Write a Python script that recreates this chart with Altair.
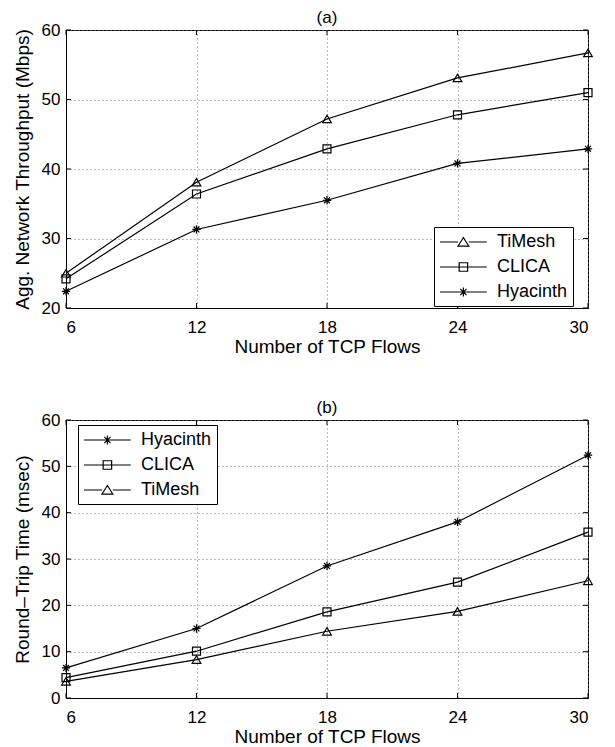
import altair as alt
import pandas as pd

flows = [6, 12, 18, 24, 30]

# Panel (a): aggregate network throughput (Mbps)
thr_timesh = [25.0, 38.1, 47.2, 53.1, 56.7]
thr_clica = [24.2, 36.4, 42.9, 47.8, 51.0]
thr_hyacinth = [22.4, 31.3, 35.5, 40.8, 42.9]

# Panel (b): round-trip time (msec)
rtt_hyacinth = [6.5, 15.0, 28.5, 38.0, 52.4]
rtt_clica = [4.4, 10.1, 18.6, 25.0, 35.8]
rtt_timesh = [3.6, 8.3, 14.4, 18.7, 25.3]

FONT = "Liberation Sans"
W, H = 522, 278
TICK = 5

SHAPES = {
    "TiMesh": "triangle-up",
    "CLICA": "square",
    "Hyacinth": "M0,-1L0,1M-1,0L1,0M-0.7,-0.7L0.7,0.7M-0.7,0.7L0.7,-0.7",
}
SIZES = {"TiMesh": 75, "CLICA": 64, "Hyacinth": 70}
# legend glyphs: a line with the marker in its middle (unit box scaled by symbol size)
LEG_PATHS = {
    "TiMesh": "M-1,0L1.0,0M2.2,0L4.2,0M1.6,-0.5L2.2,0.45L1.0,0.45Z",
    "CLICA": "M-1,0L4.2,0M1.13,-0.47L2.07,-0.47L2.07,0.47L1.13,0.47Z",
    "Hyacinth": "M-1,0L4.2,0M1.6,-0.5L1.6,0.5M1.1,0L2.1,0M1.25,-0.35L1.95,0.35M1.25,0.35L1.95,-0.35",
}


def long_df(series):
    rows = []
    for name, vals in series:
        for x, v in zip(flows, vals):
            rows.append({"flows": x, "value": v, "series": name})
    return pd.DataFrame(rows)


def panel(series, ytitle, ydomain, title, legend_x, legend_y):
    df = long_df(series)
    order = [s for s, _ in series]
    yticks = list(range(ydomain[0], ydomain[1] + 1, 10))
    xscale = alt.Scale(domain=[6, 30], nice=False)
    yscale = alt.Scale(domain=ydomain, nice=False)
    xenc = alt.X("flows:Q", scale=xscale,
                 axis=alt.Axis(values=flows, title="Number of TCP Flows"))
    yenc = alt.Y("value:Q", scale=yscale,
                 axis=alt.Axis(values=yticks, title=ytitle))
    base = alt.Chart(df).encode(x=xenc, y=yenc)
    lines = base.mark_line(color="black", strokeWidth=1.2).encode(detail="series:N")
    layers = [lines]
    for name in order:
        layers.append(
            base.transform_filter(alt.datum.series == name).mark_point(
                shape=SHAPES[name], size=SIZES[name], filled=False,
                color="black", strokeWidth=1.2, opacity=1,
            )
        )
    # inward tick marks on all four sides (MATLAB style)
    xt = alt.Chart(pd.DataFrame({"flows": flows}))
    yt = alt.Chart(pd.DataFrame({"value": yticks}))
    tick_style = dict(color="black", strokeWidth=1)
    layers += [
        xt.mark_rule(**tick_style).encode(x=alt.X("flows:Q"), y=alt.value(H), y2=alt.value(H - TICK)),
        xt.mark_rule(**tick_style).encode(x=alt.X("flows:Q"), y=alt.value(0), y2=alt.value(TICK)),
        yt.mark_rule(**tick_style).encode(y=alt.Y("value:Q"), x=alt.value(0), x2=alt.value(TICK)),
        yt.mark_rule(**tick_style).encode(y=alt.Y("value:Q"), x=alt.value(W), x2=alt.value(W - TICK)),
    ]
    legend_layer = base.mark_point(opacity=0, filled=False, color="black").encode(
        shape=alt.Shape(
            "series:N",
            scale=alt.Scale(domain=order, range=[LEG_PATHS[s] for s in order]),
            legend=alt.Legend(
                title=None, orient="none", legendX=legend_x, legendY=legend_y,
                symbolOpacity=1, symbolSize=324, symbolStrokeWidth=1.2,
                symbolStrokeColor="black", symbolFillColor="transparent",
                labelFont=FONT, labelFontSize=18, labelColor="black",
                strokeColor="black", fillColor="white", padding=5,
                rowPadding=6, labelOffset=38,
            ),
        )
    )
    layers.append(legend_layer)
    return alt.layer(*layers).properties(
        width=W, height=H,
        title=alt.TitleParams(title, fontSize=17, font=FONT, fontWeight="normal",
                              color="black", offset=-6),
    )


top = panel(
    [("TiMesh", thr_timesh), ("CLICA", thr_clica), ("Hyacinth", thr_hyacinth)],
    "Agg. Network Throughput (Mbps)", [20, 60], "(a)", 368, 197,
)
bottom = panel(
    [("Hyacinth", rtt_hyacinth), ("CLICA", rtt_clica), ("TiMesh", rtt_timesh)],
    "Round\u2013Trip Time (msec)", [0, 60], "(b)", 12, 5,
)

chart = (
    alt.vconcat(top, bottom, spacing=41, background="white",
                padding={"left": 4, "top": 0, "right": 0, "bottom": 0})
    .resolve_scale(shape="independent")
    .resolve_legend(shape="independent")
    .configure_view(stroke="black", strokeWidth=1)
    .configure_axis(
        labelFont=FONT, labelFontSize=17, labelColor="black",
        titleFont=FONT, titleFontSize=19, titleFontWeight="normal", titleColor="black",
        domainColor="black", domainWidth=1, ticks=False,
        grid=True, gridColor="#777777", gridDash=[1, 3], gridWidth=1,
    )
    .configure_axisX(titlePadding=2, labelPadding=11)
    .configure_axisY(titlePadding=9, labelPadding=6)
)

chart.save("out.html", embed_options={"renderer": "svg", "actions": False})
